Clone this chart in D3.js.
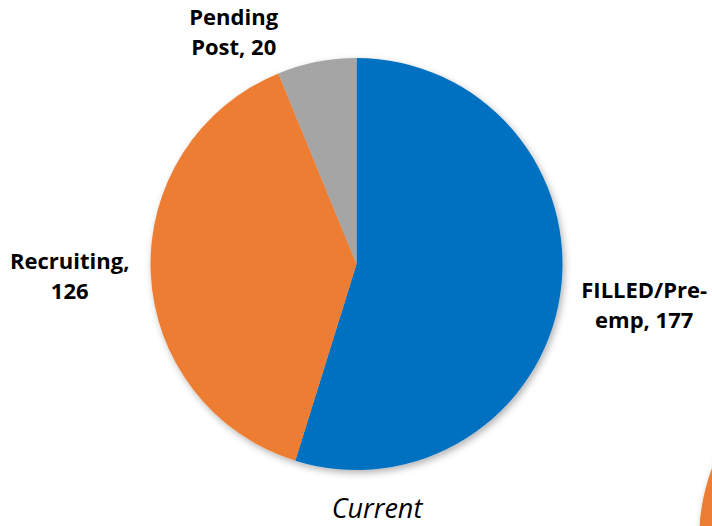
<!DOCTYPE html>
<html>
<head>
<meta charset="utf-8">
<script src="https://cdn.jsdelivr.net/npm/d3@7"></script>
<style>
  html, body { margin: 0; padding: 0; background: #fff; }
  svg { display: block; }
</style>
</head>
<body>
<svg id="chart" width="712" height="526"></svg>
<script>
// Position counts for the current period
const categories = ["FILLED/Pre-emp", "Recruiting", "Pending Post"];
const values = [177, 126, 20];
const labelLines = [["FILLED/Pre-", "emp, 177"], ["Recruiting,", "126"], ["Pending", "Post, 20"]];
const colors = ["#0070C0", "#ED7D31", "#A5A5A5"];
const title = "Current";

// label placement relative to each slice's outer mid point
const labelNudge = [[84, 3], [-81, -4], [-83, -37]];

const width = 712, height = 526;
const cx = 356.5, cy = 264, r = 206;

const svg = d3.select("#chart");

const defs = svg.append("defs");
const shadow = defs.append("filter").attr("id", "shadow")
  .attr("x", "-20%").attr("y", "-20%").attr("width", "140%").attr("height", "140%");
shadow.append("feDropShadow")
  .attr("dx", 2).attr("dy", 3).attr("stdDeviation", 3.5)
  .attr("flood-color", "#000").attr("flood-opacity", 0.3);

// edge of the neighbouring pie peeking in at the lower right
svg.append("circle")
  .attr("cx", 905).attr("cy", 540).attr("r", r)
  .attr("fill", colors[1])
  .attr("filter", "url(#shadow)");

const pie = d3.pie().sort(null).value(d => d)(values);
const arc = d3.arc().innerRadius(0).outerRadius(r);

const g = svg.append("g").attr("transform", `translate(${cx},${cy})`);

g.append("g").attr("filter", "url(#shadow)")
  .selectAll("path")
  .data(pie)
  .join("path")
  .attr("d", arc)
  .attr("fill", (d, i) => colors[i]);

const labels = g.selectAll("text.lbl")
  .data(pie)
  .join("text")
  .attr("class", "lbl")
  .attr("font-family", "'Open Sans', sans-serif")
  .attr("font-weight", "bold")
  .attr("font-size", 22)
  .attr("fill", "#000")
  .attr("text-anchor", "middle")
  .attr("transform", (d, i) => {
    const a = (d.startAngle + d.endAngle) / 2;
    const x = Math.sin(a) * r + labelNudge[i][0];
    const y = -Math.cos(a) * r + labelNudge[i][1];
    return `translate(${x},${y})`;
  });

labels.each(function(d, i) {
  d3.select(this).selectAll("tspan")
    .data(labelLines[i])
    .join("tspan")
    .attr("x", 0)
    .attr("y", (t, j) => j * 30)
    .text(t => t);
});

svg.append("text")
  .attr("x", 377).attr("y", 518)
  .attr("text-anchor", "middle")
  .attr("font-family", "'Open Sans', sans-serif")
  .attr("font-style", "italic")
  .attr("font-size", 27)
  .attr("fill", "#000")
  .text(title);
</script>
</body>
</html>
